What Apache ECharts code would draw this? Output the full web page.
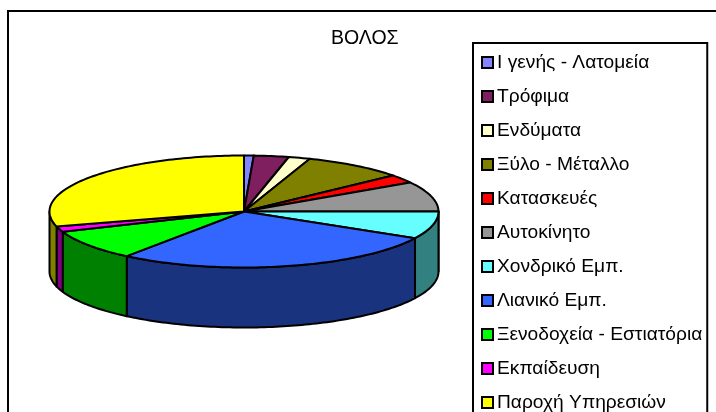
<!DOCTYPE html>
<html>
<head>
<meta charset="utf-8">
<style>
html, body { margin: 0; padding: 0; background: #fff; overflow: hidden; }
#main { width: 716px; height: 412px; }
</style>
<script src="https://cdn.jsdelivr.net/npm/echarts@6/dist/echarts.min.js"></script>
</head>
<body>
<div id="main"></div>
<script>
// ----data (percent, read from the slice edges)
var categories = ["Ι γενής - Λατομεία", "Τρόφιμα", "Ενδύματα", "Ξύλο - Μέταλλο", "Κατασκευές", "Αυτοκίνητο", "Χονδρικό Εμπ.", "Λιανικό Εμπ.", "Ξενοδοχεία - Εστιατόρια", "Εκπαίδευση", "Παροχή Υπηρεσιών"];
var values = [0.8, 2.9, 1.8, 8.4, 2.4, 8.7, 7.9, 27.4, 8.8, 1.6, 29.3];
var topColors = ["#8484FF", "#7F1F5F", "#FFFFCC", "#808000", "#FF0000", "#969696", "#66FFFF", "#3366FF", "#00FF00", "#FF00FF", "#FFFF00"];
var sideColors = ["#424280", "#401030", "#808066", "#404000", "#800000", "#4B4B4B", "#338080", "#1A337F", "#008000", "#800080", "#808000"];
var titleText = "ΒΟΛΟΣ";

var total = values.reduce(function (a, b) { return a + b; }, 0);
// the pie is a unit circle squashed by the axes, the wall hangs below it
var depth = 60 / 56;
var FONT = "'Liberation Sans', Arial, sans-serif";

function rad(share) { return share / total * Math.PI * 2; }

function sliceRenderer(start, end, top, side) {
    return function (params, api) {
        var pts = [api.coord([0, 0])];
        var steps = Math.max(2, Math.ceil((end - start) / 0.02));
        for (var i = 0; i <= steps; i++) {
            var a = start + (end - start) * i / steps;
            pts.push(api.coord([Math.sin(a), Math.cos(a)]));
        }
        var children = [];
        // wall only on the front half (90deg to 270deg)
        var s0 = Math.max(start, Math.PI / 2), s1 = Math.min(end, Math.PI * 1.5);
        if (s1 > s0) {
            var upper = [], lower = [];
            var n = Math.max(2, Math.ceil((s1 - s0) / 0.02));
            for (var j = 0; j <= n; j++) {
                var b = s0 + (s1 - s0) * j / n;
                upper.push(api.coord([Math.sin(b), Math.cos(b)]));
                lower.unshift(api.coord([Math.sin(b), Math.cos(b) - depth]));
            }
            children.push({
                type: "polygon",
                shape: { points: upper.concat(lower) },
                style: { fill: side, stroke: "#000", lineWidth: 2, lineJoin: "round" }
            });
        }
        children.push({
            type: "polygon",
            shape: { points: pts },
            style: { fill: top, stroke: "#000", lineWidth: 2, lineJoin: "round" }
        });
        return { type: "group", children: children };
    };
}

var series = [];
var acc = 0;
categories.forEach(function (name, i) {
    var start = rad(acc);
    acc += values[i];
    series.push({
        name: name,
        type: "custom",
        coordinateSystem: "cartesian2d",
        silent: true,
        clip: false,
        itemStyle: { color: topColors[i] },
        data: [[0, 0, values[i]]],
        renderItem: sliceRenderer(start, rad(acc), topColors[i], sideColors[i])
    });
});

window.myChart = echarts.init(document.getElementById("main"));
var option = {
    backgroundColor: "#fff",
    animation: false,
    title: {
        text: titleText,
        left: 331,
        top: 29,
        padding: 0,
        textStyle: { fontFamily: FONT, fontSize: 19.5, fontWeight: "normal", color: "#000" }
    },
    grid: { left: 49.5, width: 389, top: 155.5, height: 172 },
    xAxis: { type: "value", min: -1, max: 1, show: false },
    yAxis: { type: "value", min: -1 - depth, max: 1, show: false },
    legend: {
        orient: "vertical",
        left: 473,
        top: 43,
        height: 600,
        padding: [10, 5, 12, 8],
        itemGap: 15,
        itemWidth: 11,
        itemHeight: 11,
        selectedMode: false,
        borderColor: "#000",
        borderWidth: 2,
        backgroundColor: "#fff",
        icon: "rect",
        textStyle: { fontFamily: FONT, fontSize: 19.2, color: "#000", padding: [0, 0, 0, -1], lineHeight: 19 },
        data: categories.map(function (name, i) {
            return { name: name, itemStyle: { color: topColors[i], borderColor: "#000", borderWidth: 2 } };
        })
    },
    graphic: [{
        type: "rect",
        silent: true,
        z: -1,
        shape: { x: 8, y: 11, width: 720, height: 420 },
        style: { fill: "#fff", stroke: "#000", lineWidth: 2 }
    }],
    series: series
};
myChart.setOption(option);
</script>
</body>
</html>
